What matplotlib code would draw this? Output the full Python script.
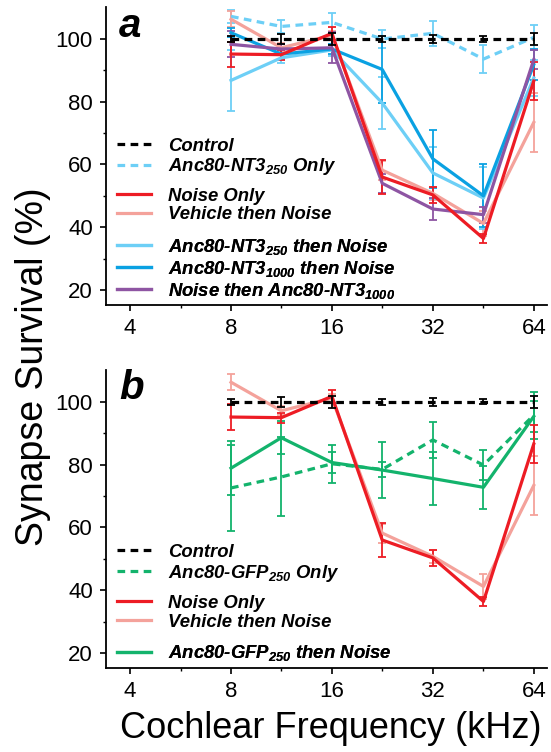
import matplotlib
matplotlib.use("Agg")
import matplotlib.pyplot as plt
from matplotlib.lines import Line2D
from matplotlib.ticker import FixedLocator, NullFormatter

# half-octave sampling (kHz)
freqs = [8, 11.3, 16, 22.6, 32, 45.3, 64]

# panel a
control = [100.0, 100.0, 100.0, 100.0, 100.0, 100.0, 100.0]
control_err = [1.0, 1.6, 1.8, 1.0, 1.3, 0.8, 2.0]
nt3_only = [107.2, 104.0, 105.3, 100.0, 101.8, 93.6, 100.5]
nt3_only_err = [2.0, 2.0, 3.0, 3.0, 4.0, 4.4, 4.0]
noise_only = [95.2, 95.0, 101.8, 56.0, 50.3, 36.4, 86.6]
noise_only_err = [4.0, 1.6, 2.0, 5.5, 2.5, 1.5, 6.2]
vehicle = [106.3, 97.2, 101.2, 58.2, 50.8, 41.2, 73.4]
vehicle_err = [2.5, 1.5, 1.5, 3.0, 2.0, 4.0, 9.3]
nt3_250_noise = [86.8, 94.0, 96.5, 79.6, 57.3, 49.3, 87.6]
nt3_250_noise_err = [9.6, 1.5, 2.0, 8.2, 8.3, 10.0, 5.8]
nt3_1000_noise = [102.0, 95.2, 96.8, 90.3, 61.8, 50.0, 91.8]
nt3_1000_noise_err = [1.5, 1.5, 1.5, 10.6, 9.3, 10.0, 5.0]
noise_nt3_1000 = [98.3, 96.8, 97.2, 54.0, 45.8, 44.0, 93.4]
noise_nt3_1000_err = [4.2, 1.5, 5.0, 3.0, 3.6, 2.5, 3.0]

# panel b
gfp_only = [72.6, 76.1, 80.3, 78.5, 87.9, 79.9, 95.8]
gfp_only_err = [13.6, 12.6, 6.0, 2.4, 5.8, 4.8, 7.5]
gfp_noise = [78.9, 88.6, 80.7, 78.3, 75.6, 72.8, 95.4]
gfp_noise_err = [8.7, 5.2, 3.4, 9.0, 8.4, 6.9, 5.0]

x_ticks = [4, 8, 16, 32, 64]
x_minor = [5.66, 11.3, 22.6, 45.3]
y_ticks = [20, 40, 60, 80, 100]
y_minor = [30, 50, 70, 90]

RED = "#ED1C24"
SALMON = "#F4A29B"
LBLUE = "#6DCFF6"
BLUE = "#0AA1E2"
PURPLE = "#8E55A3"
GREEN = "#13B36C"
DASH = (0, (2.4, 1.7))
LW = 2.3

plt.rcParams.update({
    "font.family": "Liberation Sans",
    "mathtext.fontset": "custom",
    "mathtext.rm": "Liberation Sans:bold:italic",
    "mathtext.it": "Liberation Sans:bold:italic",
    "mathtext.bf": "Liberation Sans:bold:italic",
})

fig = plt.figure(figsize=(5.51, 7.52), dpi=100)
ax_a = fig.add_axes([0.1924, 0.5944, 0.8, 0.3963])
ax_b = fig.add_axes([0.1924, 0.1117, 0.8, 0.3963])


def series(ax, y, err, color, ls="-", z=2):
    ax.errorbar(freqs, y, yerr=err, color=color, ls=ls, lw=LW,
                elinewidth=1.3, capsize=3, capthick=1.3, zorder=z)


def style(ax):
    ax.set_xscale("log", base=2)
    ax.set_xlim(3.39, 70.0)
    ax.set_ylim(15.2, 110.2)
    ax.xaxis.set_major_locator(FixedLocator(x_ticks))
    ax.xaxis.set_minor_locator(FixedLocator(x_minor))
    ax.xaxis.set_minor_formatter(NullFormatter())
    ax.set_xticklabels([str(v) for v in x_ticks])
    ax.yaxis.set_major_locator(FixedLocator(y_ticks))
    ax.yaxis.set_minor_locator(FixedLocator(y_minor))
    ax.spines["top"].set_visible(False)
    ax.spines["right"].set_visible(False)
    for s in ("left", "bottom"):
        ax.spines[s].set_linewidth(1.3)
    ax.tick_params(which="major", direction="out", length=4.5, width=1.2,
                   labelsize=16, pad=5)
    ax.tick_params(which="minor", direction="out", length=2.5, width=1.0)


def group_legend(ax, entries, y):
    handles = [Line2D([], [], color=c, ls=ls, lw=LW) for c, ls, _ in entries]
    labels = [t for _, _, t in entries]
    leg = ax.legend(handles, labels, loc="center left", bbox_to_anchor=(0.024, y),
                    frameon=False, borderpad=0, borderaxespad=0, labelspacing=0.1,
                    handlelength=1.85, handletextpad=0.95,
                    prop={"family": "Liberation Sans", "weight": "bold",
                          "style": "italic", "size": 13.3})
    ax.add_artist(leg)


# ---- panel a
series(ax_a, nt3_only, nt3_only_err, LBLUE, DASH)
series(ax_a, vehicle, vehicle_err, SALMON)
series(ax_a, nt3_250_noise, nt3_250_noise_err, LBLUE)
series(ax_a, nt3_1000_noise, nt3_1000_noise_err, BLUE)
series(ax_a, noise_nt3_1000, noise_nt3_1000_err, PURPLE)
series(ax_a, noise_only, noise_only_err, RED)
series(ax_a, control, control_err, "black", DASH, z=3)
style(ax_a)
ax_a.text(0.03, 0.899, "a", transform=ax_a.transAxes, fontsize=29,
          fontweight="bold", fontstyle="italic", va="baseline")
group_legend(ax_a, [("black", DASH, "Control"),
                    (LBLUE, DASH, r"Anc80-NT3$_{250}$ Only")], 0.495)
group_legend(ax_a, [(RED, "-", "Noise Only"),
                    (SALMON, "-", "Vehicle then Noise")], 0.334)
group_legend(ax_a, [(LBLUE, "-", r"Anc80-NT3$_{250}$ then Noise"),
                    (BLUE, "-", r"Anc80-NT3$_{1000}$ then Noise"),
                    (PURPLE, "-", r"Noise then Anc80-NT3$_{1000}$")], 0.122)

# ---- panel b
series(ax_b, gfp_only, gfp_only_err, GREEN, DASH)
series(ax_b, vehicle, vehicle_err, SALMON)
series(ax_b, gfp_noise, gfp_noise_err, GREEN)
series(ax_b, noise_only, noise_only_err, RED)
series(ax_b, control, control_err, "black", DASH, z=3)
style(ax_b)
ax_b.text(0.03, 0.903, "b", transform=ax_b.transAxes, fontsize=29,
          fontweight="bold", fontstyle="italic", va="baseline")
group_legend(ax_b, [("black", DASH, "Control"),
                    (GREEN, DASH, r"Anc80-GFP$_{250}$ Only")], 0.35)
group_legend(ax_b, [(RED, "-", "Noise Only"),
                    (SALMON, "-", "Vehicle then Noise")], 0.185)
group_legend(ax_b, [(GREEN, "-", r"Anc80-GFP$_{250}$ then Noise")], 0.050)

fig.text(0.06, 0.512, "Synapse Survival (%)", rotation=90, fontsize=27,
         ha="center", va="center")
fig.text(0.601, 0.031, "Cochlear Frequency (kHz)", fontsize=26,
         ha="center", va="center")

fig.savefig("out.png", dpi=100)
